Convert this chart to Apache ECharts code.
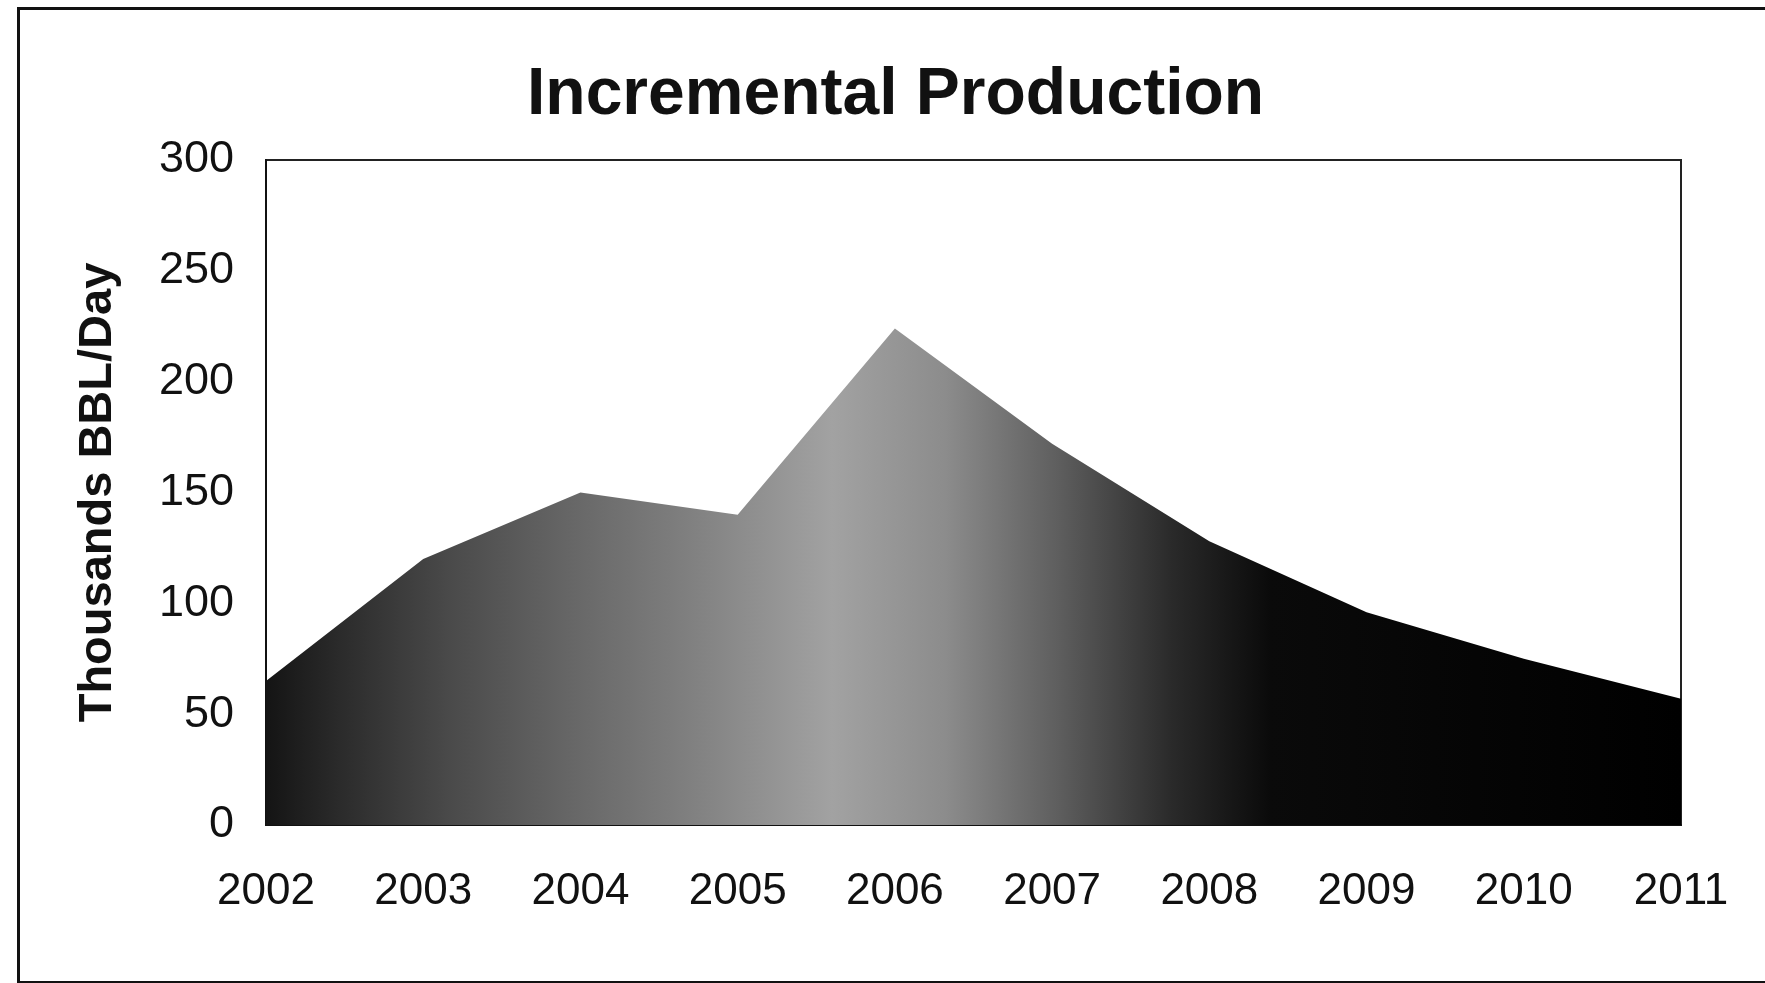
<!DOCTYPE html>
<html>
<head>
<meta charset="utf-8">
<script src="https://cdn.jsdelivr.net/npm/echarts@6/dist/echarts.min.js"></script>
<style>
  html, body { margin: 0; padding: 0; background: #fff; }
  #chart { width: 1765px; height: 983px; }
</style>
</head>
<body>
<div id="chart"></div>
<script>
// ---- data ----
const years = ['2002', '2003', '2004', '2005', '2006', '2007', '2008', '2009', '2010', '2011'];
const production = [65, 120, 150, 140, 224, 172, 128, 96, 75, 57];
const yTicks = { min: 0, max: 300, interval: 50 };
const titleText = 'Incremental Production';
const yAxisName = 'Thousands BBL/Day';

const FONT = '"Liberation Sans", Arial, Helvetica, sans-serif';

const chart = echarts.init(document.getElementById('chart'), null, { renderer: 'canvas' });

const fill = new echarts.graphic.LinearGradient(0, 0, 1, 0, [
  { offset: 0.00, color: '#141414' },
  { offset: 0.05, color: '#2a2a2a' },
  { offset: 0.13, color: '#4a4a4a' },
  { offset: 0.22, color: '#686868' },
  { offset: 0.30, color: '#808080' },
  { offset: 0.40, color: '#a2a2a2' },
  { offset: 0.48, color: '#8c8c8c' },
  { offset: 0.56, color: '#5e5e5e' },
  { offset: 0.64, color: '#2a2a2a' },
  { offset: 0.71, color: '#0a0a0a' },
  { offset: 1.00, color: '#000000' }
]);

chart.setOption({
  backgroundColor: '#ffffff',
  animation: false,
  title: {
    text: titleText,
    left: 527,
    top: 63,
    padding: 0,
    textStyle: { fontFamily: FONT, fontSize: 66, fontWeight: 'bold', color: '#111' }
  },
  graphic: [
    {
      type: 'rect',
      left: 16, top: 6,
      shape: { width: 1800, height: 974 },
      style: { fill: 'none', stroke: '#111', lineWidth: 3 },
      silent: true
    }
  ],
  grid: {
    left: 266, right: 84, top: 160, bottom: 158,
    show: true, borderColor: '#222', borderWidth: 2, backgroundColor: 'transparent'
  },
  xAxis: {
    type: 'category',
    data: years,
    boundaryGap: false,
    axisLine: { show: true, lineStyle: { color: '#111', width: 2 } },
    axisTick: { show: false },
    axisLabel: { fontFamily: FONT, fontSize: 44, color: '#111', margin: 45 },
    splitLine: { show: false }
  },
  yAxis: {
    type: 'value',
    min: yTicks.min, max: yTicks.max, interval: yTicks.interval,
    name: yAxisName,
    nameLocation: 'middle',
    nameRotate: 90,
    nameGap: 144,
    nameTextStyle: { fontFamily: FONT, fontSize: 47, fontWeight: 'bold', color: '#111' },
    axisLine: { show: true, lineStyle: { color: '#111', width: 2 } },
    axisTick: { show: false },
    axisLabel: { fontFamily: FONT, fontSize: 45, color: '#111', margin: 32 },
    splitLine: { show: false }
  },
  series: [
    {
      type: 'line',
      data: production,
      symbol: 'none',
      lineStyle: { width: 0 },
      areaStyle: { color: fill, opacity: 1 }
    }
  ]
});
</script>
</body>
</html>
